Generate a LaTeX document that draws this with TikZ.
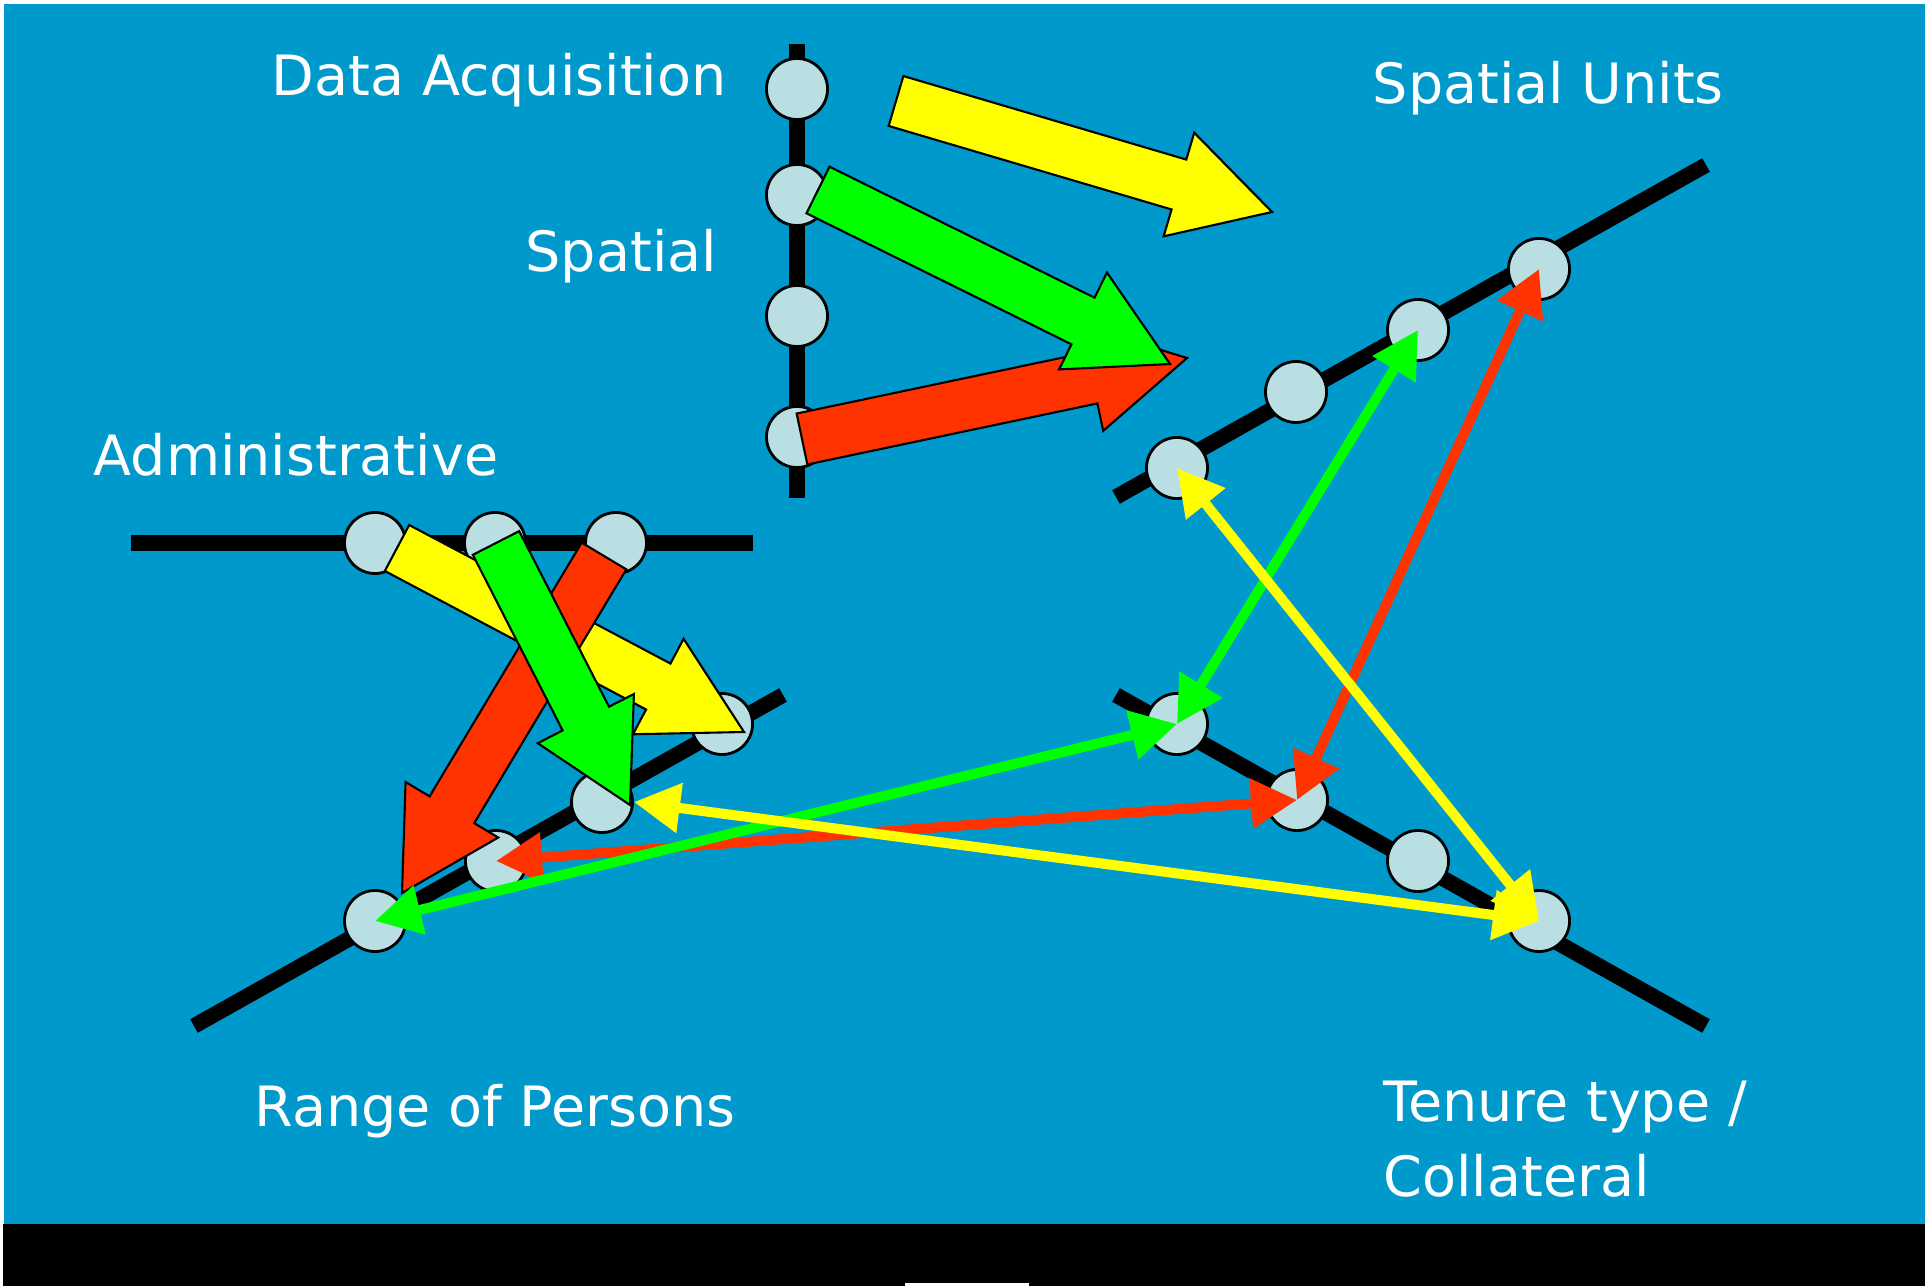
\documentclass[tikz,border=0pt]{standalone}
\usepackage{fontspec}
\setmainfont{DejaVu Sans}
\usepackage{tikz}
\usetikzlibrary{positioning,calc,arrows.meta}
\definecolor{bgblue}{RGB}{0,153,204}
\definecolor{dotfill}{RGB}{185,223,227}
\definecolor{yel}{RGB}{255,255,0}
\definecolor{grn}{RGB}{0,255,0}
\definecolor{rd}{RGB}{255,51,0}
\tikzstyle{axis}=[line width=0.155cm, black]
\tikzstyle{dot}=[circle, draw=black, fill=dotfill, line width=0.8pt, minimum size=0.61cm, inner sep=0pt]
\tikzstyle{lab}=[text=white, font=\fontsize{15.8}{21.3}\selectfont, inner sep=0pt]
\tikzstyle{link}=[line width=0.1cm, {Triangle[length=0.46cm,width=0.48cm]}-{Triangle[length=0.46cm,width=0.48cm]}]
% big outlined arrow: colour, tail, tip
\newcommand{\blockarrow}[3]{%
  \coordinate (ba-s) at #2;
  \coordinate (ba-e) at #3;
  \coordinate (ba-h) at ($(ba-e)!0.97cm!(ba-s)$);
  \filldraw[fill=#1, draw=black, line width=0.6pt]
    ($(ba-s)!0.26cm!90:(ba-e)$) -- ($(ba-h)!0.26cm!-90:(ba-s)$) -- ($(ba-h)!0.54cm!-90:(ba-s)$) -- (ba-e)
    -- ($(ba-h)!0.54cm!90:(ba-s)$) -- ($(ba-h)!0.26cm!90:(ba-s)$) -- ($(ba-s)!0.26cm!-90:(ba-e)$) -- cycle;
}

\begin{document}
\begin{tikzpicture}[x=0.01cm,y=-0.01cm,auto]
\useasboundingbox (0,0) rectangle (1925,1286);
\fill[white] (0,0) rectangle (1925,1286);
\fill[bgblue] (4,4) rectangle (1925,1224);
\fill[black] (3,1224) rectangle (1925,1286);
\fill[white] (905,1283) rectangle (1029,1286);

% the four axes and the acquisition axis
\draw[axis] (797,44) -- (797,498);
\draw[axis] (131,543) -- (753,543);
\draw[axis] (194,1026) -- (783,695);
\draw[axis] (1116,497) -- (1706,165);
\draw[axis] (1116,695) -- (1706,1026);

\node[dot] (acq1) at (797,89) {};
\node[dot] (acq2) at (797,195) {};
\node[dot] (acq3) at (797,316) {};
\node[dot] (acq4) at (797,437) {};

\node[dot] (adm1) at (375,543) {};
\node[dot] (adm2) at (495,543) {};
\node[dot] (adm3) at (616,543) {};

\node[dot] (per1) at (375,921) {};
\node[dot] (per2) at (496,861) {};
\node[dot] (per3) at (602,802) {};
\node[dot] (per4) at (722,724) {};

\node[dot] (unit1) at (1177,468) {};
\node[dot] (unit2) at (1296,392) {};
\node[dot] (unit3) at (1418,330) {};
\node[dot] (unit4) at (1539,269) {};

\node[dot] (ten1) at (1177,724) {};
\node[dot] (ten2) at (1297,800) {};
\node[dot] (ten3) at (1418,861) {};
\node[dot] (ten4) at (1539,921) {};

% labels
\node[lab, anchor=base west] (acqlabel) at (271,96) {Data Acquisition};
\node[lab, anchor=base west] (spatlabel) at (525,272) {Spatial};
\node[lab, anchor=base west] (unitslabel) at (1372,104) {Spatial Units};
\node[lab, anchor=base west] (adminlabel) at (93,476) {Administrative};
\node[lab, anchor=base west] (personslabel) at (254,1126) {Range of Persons};
\node[lab, anchor=north west, align=left] (tenurelabel) at (1383,1080) {Tenure type /\\Collateral};

% block arrows, top
\blockarrow{yel}{(896,101)}{(1272,212)}
\blockarrow{rd}{(802,439)}{(1187,358)}
\blockarrow{grn}{(818,190)}{(1170,364)}

% block arrows, left
\blockarrow{yel}{(397,548)}{(744,732)}
\blockarrow{rd}{(604,556)}{(402,893)}
\blockarrow{grn}{(496,543)}{(630,805)}

% links between the units
\draw[link, rd] (unit4.center) -- (ten2.center);
\draw[link, rd] (ten2.center) -- (per2.center);
\draw[link, grn] (unit3.center) -- (ten1.center);
\draw[link, grn] (ten1.center) -- (per1.center);
\draw[link, yel] (unit1.center) -- (ten4.center);
\draw[link, yel] (per3.east) -- (ten4.center);
\end{tikzpicture}
\end{document}
